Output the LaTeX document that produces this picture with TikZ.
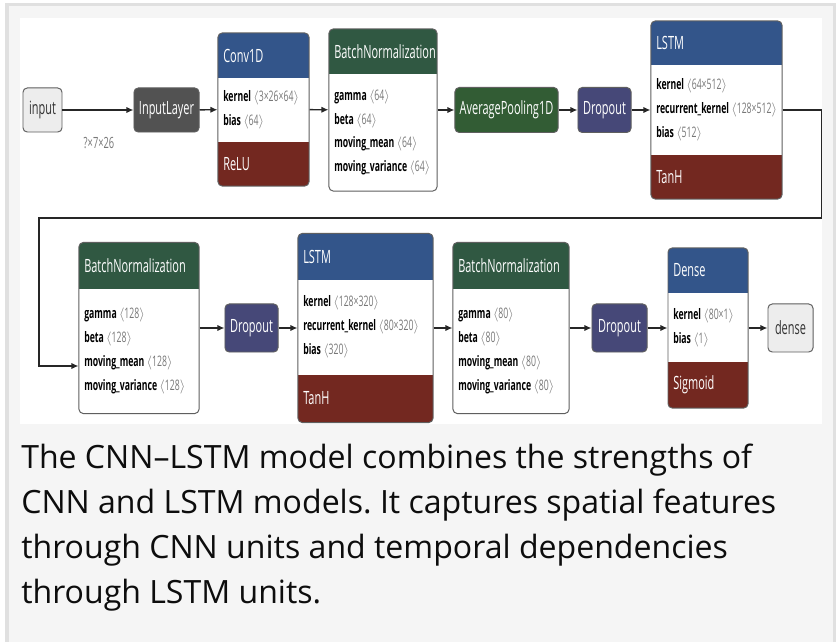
\documentclass[tikz,border=0pt]{standalone}
\usepackage{fontspec}
\setmainfont{Open Sans}
\newfontfamily\netfont[FakeStretch=0.6]{Open Sans}
\usetikzlibrary{arrows.meta,positioning}
\frenchspacing

\definecolor{layerblue}{RGB}{51,85,138}
\definecolor{normgreen}{RGB}{48,88,66}
\definecolor{poolgreen}{RGB}{50,92,52}
\definecolor{actred}{RGB}{115,40,32}
\definecolor{dropblue}{RGB}{70,72,120}
\definecolor{inputgray}{RGB}{82,82,82}
\definecolor{edgegray}{RGB}{95,95,95}
\definecolor{dimgray}{RGB}{120,120,120}
\definecolor{pagegray}{RGB}{245,245,245}
\definecolor{framegray}{RGB}{224,224,224}

\newcommand{\dimv}[1]{{\color{dimgray}$\langle$#1$\rangle$}}

\begin{document}
\begin{tikzpicture}[x=0.025cm, y=-0.025cm,
    every node/.style={font=\netfont\fontsize{10.3}{17}\selectfont},
    arr/.style={-{Latex[length=5pt,width=4.5pt]}, line width=1pt, draw=black!85},
    small/.style={draw=edgegray, rounded corners=3pt, line width=0.7pt, inner sep=0pt,
      text=white, font=\netfont\fontsize{13}{14}\selectfont},
    layer/.style n args={4}{draw=edgegray, fill=white, rounded corners=3pt, line width=0.7pt, inner sep=0pt,
      path picture={
        \fill[#1, sharp corners] (path picture bounding box.north west) rectangle ([yshift=-#2]path picture bounding box.north east);
        \fill[#3, sharp corners] (path picture bounding box.south west) rectangle ([yshift=#4]path picture bounding box.south east);}},
    title/.style={anchor=west, inner sep=0pt, text=white, font=\netfont\fontsize{13}{14}\selectfont},
    params/.style={anchor=west, align=left, inner sep=0pt}
  ]
  \useasboundingbox (0,0) rectangle (836,642);
  \fill[white] (0,0) rectangle (836,642);
  \draw[framegray, fill=pagegray, line width=0.075cm] (7,5) rectangle (834,700);
  \fill[white] (20,18) rectangle (822,424);

  % first row
  \node[small, fill=black!7, text=black!80, minimum width=0.975cm, minimum height=1.1cm] (in) at (42.5,110) {input};
  \node[small, fill=inputgray, minimum width=1.625cm, minimum height=1.1cm] (inl) at (166.5,110) {InputLayer};
  \node[text=dimgray, font=\netfont\fontsize{11}{13}\selectfont] (shape) at (99,143) {?×7×26};

  \node[layer={layerblue}{1.125cm}{actred}{1.1cm}, minimum width=2.275cm, minimum height=3.825cm] (conv) at (263.5,109.5) {};
  \node[title] (convT) at (223,55.5) {Conv1D};
  \node[params] (convP) at (223,110) {\textbf{kernel} \dimv{3×26×64}\\\textbf{bias} \dimv{64}};
  \node[title] (convA) at (223,164) {ReLU};

  \node[layer={normgreen}{1.125cm}{white}{0cm}, minimum width=2.7cm, minimum height=4.05cm] (bnA) at (383,110) {};
  \node[title] (bnAT) at (334,51.5) {BatchNormalization};
  \node[params] (bnAP) at (334,132.5) {\textbf{gamma} \dimv{64}\\\textbf{beta} \dimv{64}\\
    \textbf{moving\_mean} \dimv{64}\\\textbf{moving\_variance} \dimv{64}};

  \node[small, fill=poolgreen, minimum width=2.575cm, minimum height=1.125cm] (poolA) at (506.5,110) {AveragePooling1D};
  \node[small, fill=dropblue, minimum width=1.325cm, minimum height=1.125cm] (dropA) at (604.5,110) {Dropout};

  \node[layer={layerblue}{1.1cm}{actred}{1.1cm}, minimum width=3.275cm, minimum height=4.45cm] (lstmA) at (716.5,110) {};
  \node[title] (lstmAT) at (656,43) {LSTM};
  \node[params] (lstmAP) at (656,110) {\textbf{kernel} \dimv{64×512}\\\textbf{recurrent\_kernel} \dimv{128×512}\\\textbf{bias} \dimv{512}};
  \node[title] (lstmAA) at (656,177) {TanH};

  % second row
  \node[layer={normgreen}{1.175cm}{white}{0cm}, minimum width=3cm, minimum height=4.275cm] (bnB) at (139,328) {};
  \node[title] (bnBT) at (84,265.5) {BatchNormalization};
  \node[params] (bnBP) at (84,351) {\textbf{gamma} \dimv{128}\\\textbf{beta} \dimv{128}\\
    \textbf{moving\_mean} \dimv{128}\\\textbf{moving\_variance} \dimv{128}};

  \node[small, fill=dropblue, minimum width=1.325cm, minimum height=1.2cm] (dropB) at (251.5,328) {Dropout};

  \node[layer={layerblue}{1.175cm}{actred}{1.2cm}, minimum width=3.375cm, minimum height=4.725cm] (lstmB) at (365.5,328) {};
  \node[title] (lstmBT) at (303,256.5) {LSTM};
  \node[params] (lstmBP) at (303,327) {\textbf{kernel} \dimv{128×320}\\\textbf{recurrent\_kernel} \dimv{80×320}\\\textbf{bias} \dimv{320}};
  \node[title] (lstmBA) at (303,398) {TanH};

  \node[layer={normgreen}{1.175cm}{white}{0cm}, minimum width=2.9cm, minimum height=4.275cm] (bnC) at (511,328) {};
  \node[title] (bnCT) at (458,265.5) {BatchNormalization};
  \node[params] (bnCP) at (458,351) {\textbf{gamma} \dimv{80}\\\textbf{beta} \dimv{80}\\
    \textbf{moving\_mean} \dimv{80}\\\textbf{moving\_variance} \dimv{80}};

  \node[small, fill=dropblue, minimum width=1.375cm, minimum height=1.2cm] (dropC) at (619.5,328) {Dropout};

  \node[layer={layerblue}{1.125cm}{actred}{1.15cm}, minimum width=2cm, minimum height=4cm] (dense) at (708,328) {};
  \node[title] (denseT) at (673,270.5) {Dense};
  \node[params] (denseP) at (673,327.5) {\textbf{kernel} \dimv{80×1}\\\textbf{bias} \dimv{1}};
  \node[title] (denseA) at (673,385) {Sigmoid};

  \node[small, fill=black!7, text=black!80, minimum width=1.125cm, minimum height=1.2cm] (out) at (790.5,328) {dense};

  % connectors
  \draw[arr] (in) -- (inl);
  \draw[arr] (inl) -- (conv);
  \draw[arr] (conv) -- (bnA);
  \draw[arr] (bnA) -- (poolA);
  \draw[arr] (poolA) -- (dropA);
  \draw[arr] (dropA) -- (lstmA);
  \draw[arr] (lstmA.east) -- ++(39,0) |- (39,218) |- ([yshift=-0.95cm]bnB.west);
  \draw[arr] (bnB) -- (dropB);
  \draw[arr] (dropB) -- (lstmB);
  \draw[arr] (lstmB) -- (bnC);
  \draw[arr] (bnC) -- (dropC);
  \draw[arr] (dropC) -- (dense);
  \draw[arr] (dense) -- (out);

  % caption
  \node[anchor=north west, align=left, inner sep=0pt, text=black!95, font=\fontsize{22.8}{31.9}\selectfont] (cap) at (21,444)
    {The CNN–LSTM model combines the strengths of\\CNN and LSTM models. It captures spatial features\\
     through CNN units and temporal dependencies\\through LSTM units.};
\end{tikzpicture}
\end{document}
